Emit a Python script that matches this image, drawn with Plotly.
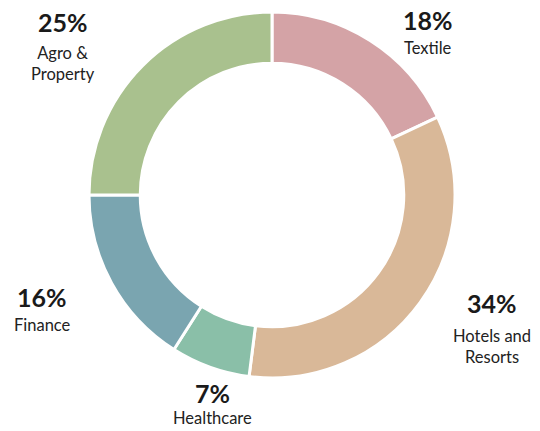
import plotly.graph_objects as go

categories = ["Textile", "Hotels and Resorts", "Healthcare", "Finance", "Agro & Property"]
values = [18, 34, 7, 16, 25]
label_lines = ["Textile", "Hotels and<br>Resorts", "Healthcare", "Finance", "Agro &<br>Property"]
colors = ["#D4A3A6", "#D9B898", "#8ABFA8", "#7AA5B0", "#A9C18E"]

W, H = 540, 431
# ring geometry in pixels
cx, cy, r = 272, 195, 183

fig = go.Figure(go.Pie(
    labels=categories,
    values=values,
    hole=0.72,
    sort=False,
    direction="clockwise",
    rotation=0,
    textinfo="none",
    marker=dict(colors=colors, line=dict(color="white", width=3)),
    domain=dict(x=[(cx - r) / W, (cx + r) / W], y=[1 - (cy + r) / H, 1 - (cy - r) / H]),
    showlegend=False,
    hoverinfo="label+percent",
))

# label positions in pixels: (centre x, percentage centre y, name block centre y)
label_pos = [(428, 20, 48), (492, 303, 346), (212, 393, 418), (42, 297, 325), (63, 22, 63)]

font_family = "Lato, 'Open Sans', sans-serif"
for name, val, (x, yp, yn) in zip(label_lines, values, label_pos):
    fig.add_annotation(
        x=x / W, y=1 - yp / H, xref="paper", yref="paper",
        xanchor="center", yanchor="middle", showarrow=False,
        text=f"<b>{val}%</b>",
        font=dict(family=font_family, color="#1a1a1a", size=25),
    )
    fig.add_annotation(
        x=x / W, y=1 - yn / H, xref="paper", yref="paper",
        xanchor="center", yanchor="middle", showarrow=False, align="center",
        text=name,
        font=dict(family=font_family, color="#222222", size=16.5),
    )

fig.update_layout(
    width=W, height=H,
    margin=dict(l=0, r=0, t=0, b=0),
    paper_bgcolor="white",
    plot_bgcolor="white",
)

fig.write_html(
    "out.html",
    config={"displayModeBar": False},
    post_script="document.body.style.margin='0';document.body.style.overflow='hidden';",
)
